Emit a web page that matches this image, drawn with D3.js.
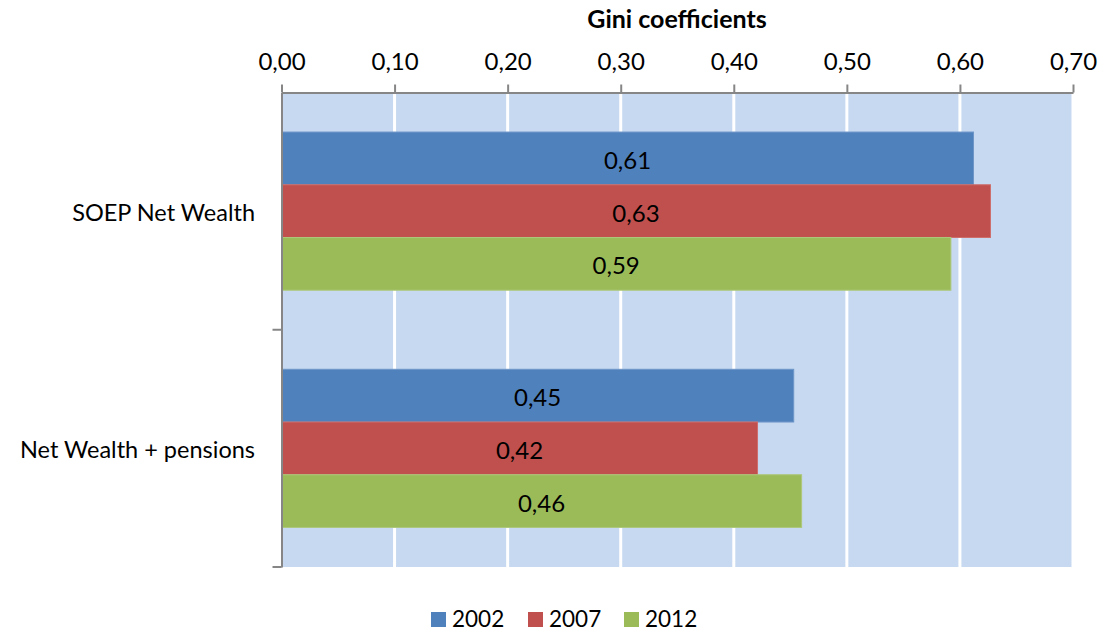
<!DOCTYPE html>
<html><head><meta charset="utf-8">
<script src="https://cdn.jsdelivr.net/npm/d3@7"></script>
<style>
html,body{margin:0;padding:0;background:#fff;}
text{font-family:Lato,"Open Sans",sans-serif;fill:#000;}
</style></head>
<body><svg id="chart" width="1105" height="633"></svg>
<script>
const categories = ["SOEP Net Wealth", "Net Wealth + pensions"];
const seriesNames = ["2002", "2007", "2012"];
const values2002 = [0.612, 0.453];
const values2007 = [0.627, 0.421];
const values2012 = [0.592, 0.460];
const tickValues = [0, 0.1, 0.2, 0.3, 0.4, 0.5, 0.6, 0.7];
const colors = ["#4F81BD", "#C0504D", "#9BBB59"];
const strokes = ["#6E96C8", "#CD6E6B", "#ADC87A"];

(function () {
const series = [values2002, values2007, values2012];
const svg = d3.select("#chart");
const pL = 281.5, pR = 1073, pT = 92.5, pB = 567;
const fmt = v => d3.format(".2f")(v).replace(".", ",");

const x = d3.scaleLinear().domain([0, 0.7]).range([pL, pR]);
const y = d3.scaleBand().domain(categories).range([pT, pB]).paddingInner(0).paddingOuter(0);
const inner = d3.scaleBand().domain(seriesNames).range([0, y.bandwidth()]).paddingOuter(0.75).paddingInner(0);

svg.append("rect").attr("x", pL).attr("y", pT).attr("width", pR - pL).attr("height", pB - pT).attr("fill", "#C6D9F0");

svg.append("g").selectAll("line").data(tickValues.slice(1)).join("line")
  .attr("x1", d => x(d)).attr("x2", d => x(d)).attr("y1", pT).attr("y2", pB)
  .attr("stroke", "#fff").attr("stroke-width", 3);

const g = svg.append("g");
categories.forEach((c, ci) => {
  seriesNames.forEach((s, si) => {
    const v = series[si][ci];
    const by = y(c) + inner(s);
    g.append("rect").attr("x", x(0)).attr("y", by)
      .attr("width", x(v) - x(0)).attr("height", inner.bandwidth())
      .attr("fill", colors[si]).attr("stroke", strokes[si]).attr("stroke-width", 1);
    g.append("text").attr("x", (x(0) + x(v)) / 2).attr("y", by + inner.bandwidth() / 2 + 1)
      .attr("text-anchor", "middle").attr("dominant-baseline", "central")
      .attr("font-size", 24).text(fmt(v));
  });
});

const xAxis = d3.axisTop(x).tickValues(tickValues).tickFormat(fmt).tickSize(8).tickPadding(15).tickSizeOuter(0);
const ax = svg.append("g").attr("transform", `translate(0,${pT})`).call(xAxis);
ax.select(".domain").attr("stroke", "#868686").attr("stroke-width", 2);
ax.selectAll(".tick line").attr("stroke", "#868686").attr("stroke-width", 2);
ax.selectAll(".tick text").attr("font-size", 24).attr("dy", "0").attr("font-family", "Lato,'Open Sans',sans-serif").attr("fill", "#000");

const yAxis = d3.axisLeft(y).tickValues([]).tickSize(0).tickSizeOuter(0);
const ay = svg.append("g").attr("transform", `translate(${pL},0)`).call(yAxis);
ay.select(".domain").attr("stroke", "#868686").attr("stroke-width", 2);
const bounds = [pT + y.bandwidth(), pB];
svg.append("g").selectAll("line").data(bounds).join("line")
  .attr("x1", pL - 9).attr("x2", pL).attr("y1", d => d).attr("y2", d => d)
  .attr("stroke", "#868686").attr("stroke-width", 2);

svg.append("g").selectAll("text").data(categories).join("text")
  .attr("x", 255).attr("y", d => y(d) + y.bandwidth() / 2 + 1)
  .attr("text-anchor", "end").attr("dominant-baseline", "central")
  .attr("font-size", 23.5).text(d => d);

svg.append("text").attr("x", 677).attr("y", 28)
  .attr("text-anchor", "middle").attr("font-size", 25).attr("font-weight", "bold")
  .text("Gini coefficients");

const legendX = [431, 528, 624];
const lg = svg.append("g");
seriesNames.forEach((s, i) => {
  lg.append("rect").attr("x", legendX[i]).attr("y", 612).attr("width", 15).attr("height", 15).attr("fill", colors[i]);
  lg.append("text").attr("x", legendX[i] + 21).attr("y", 627).attr("font-size", 22.5).text(s);
});
})();
</script></body></html>
